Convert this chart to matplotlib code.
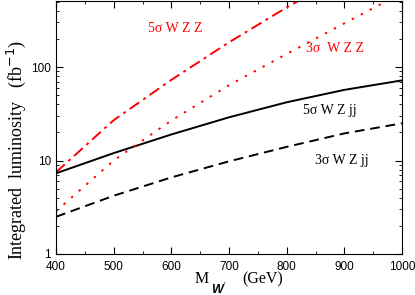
import numpy as np
import matplotlib.pyplot as plt
from matplotlib.ticker import MultipleLocator, FixedLocator, NullFormatter

# Reach in integrated luminosity (fb^-1) vs W' mass
mass = [400, 500, 600, 700, 800, 900, 1000]
wzjj_5s = [7.3, 12.0, 19.0, 29.0, 42.0, 57.0, 72.0]
wzjj_3s = [2.5, 4.2, 6.6, 9.8, 14.0, 19.5, 25.0]
wzz_5s = [7.5, 27.0, 73.0, 184.0, 435.0, 950.0, 1900.0]
wzz_3s = [2.87, 10.0, 26.8, 64.0, 138.0, 294.0, 620.0]

serif = 'Liberation Serif'
sans = 'Liberation Sans'

fig = plt.figure(figsize=(4.15, 2.95), dpi=100)
ax = fig.add_axes([0.135, 0.139, 0.834, 0.858])

ax.plot(mass, wzjj_5s, 'k-', lw=1.4)
ax.plot(mass, wzjj_3s, 'k--', lw=1.4, dashes=(5, 3))
ax.plot(mass, wzz_5s, color='red', lw=1.4, dashes=(6, 2.5, 1.5, 2.5))
ax.plot(mass, wzz_3s, color='red', lw=1.4, dashes=(1.2, 4))

ax.set_yscale('log')
ax.set_xlim(400, 1000)
ax.set_ylim(1, 510)

ax.xaxis.set_major_locator(MultipleLocator(100))
ax.xaxis.set_minor_locator(MultipleLocator(50))
ax.yaxis.set_major_locator(FixedLocator([1, 10, 100]))
ax.yaxis.set_minor_locator(FixedLocator([k * 10.0**e for e in range(0, 3) for k in range(2, 10)]))
ax.yaxis.set_minor_formatter(NullFormatter())
ax.set_yticklabels(['1', '10', '100'])
ax.tick_params(which='both', direction='in', top=True, right=True, labelsize=8.5)
ax.tick_params(which='major', length=5)
ax.tick_params(which='minor', length=2.5)
ax.tick_params(axis='x', pad=5)
for lab in ax.get_xticklabels() + ax.get_yticklabels():
    lab.set_family(sans)

ax.set_ylabel('Integrated  luminosity   (fb$^{-1}$)', fontsize=13, family=serif)
ax.yaxis.set_label_coords(-0.082, 0.41)

# x label: M with bold-italic W' subscript
fig.text(0.468, 0.041, 'M', fontsize=11.5, family=serif, va='baseline')
fig.text(0.509, 0.008, 'W', fontsize=9, family=sans, weight='bold', style='italic', va='baseline')
fig.text(0.540, 0.030, "\u2032", fontsize=6, family=sans, va='baseline')
fig.text(0.583, 0.041, '(GeV)', fontsize=11.5, family=serif, va='baseline')

ax.text(606, 260, '5σ W Z Z', color='red', fontsize=10, family=serif, ha='center', va='center')
ax.text(884, 159, '3σ  W Z Z', color='red', fontsize=10, family=serif, ha='center', va='center')
ax.text(875, 34, '5σ W Z jj', color='black', fontsize=10, family=serif, ha='center', va='center')
ax.text(896, 10, '3σ W Z jj', color='black', fontsize=10, family=serif, ha='center', va='center')

fig.savefig('out.png', dpi=100)
